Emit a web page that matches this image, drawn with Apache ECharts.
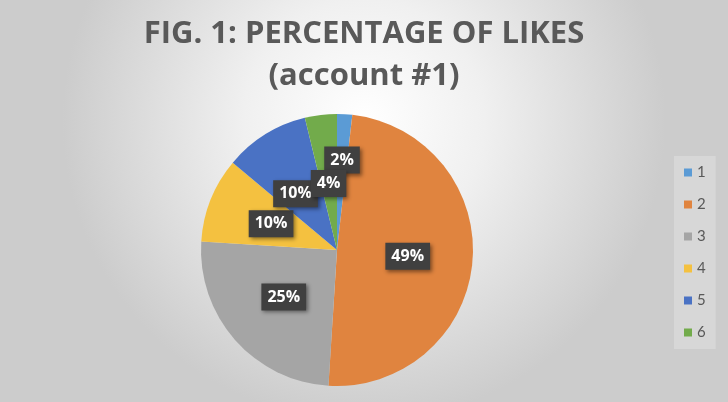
<!DOCTYPE html>
<html>
<head>
<meta charset="utf-8">
<script src="https://cdn.jsdelivr.net/npm/echarts@6/dist/echarts.min.js"></script>
<style>
html,body{margin:0;padding:0;}
#chart{width:728px;height:402px;}
</style>
</head>
<body>
<div id="chart"></div>
<script>
const categories = ['1', '2', '3', '4', '5', '6'];
const values = [1.8, 49.2, 25.0, 10.1, 10.1, 3.8];
const colors = ['#5B9BD5', '#E0843F', '#A5A5A5', '#F4C140', '#4A72C4', '#72AB4B'];
const titleLines = ['FIG. 1: PERCENTAGE OF LIKES', '(account #1)'];

const labelShift = {0: {dx: 1, dy: -19}, 4: {dx: -4, dy: 4}, 5: {dx: 0, dy: 4}};

const chart = echarts.init(document.getElementById('chart'));
chart.setOption({
  animation: false,
  backgroundColor: {
    type: 'radial', x: 0.5, y: 0.3, r: 0.75,
    colorStops: [
      {offset: 0, color: '#ffffff'},
      {offset: 0.4, color: '#f0f0f0'},
      {offset: 1, color: '#cccccc'}
    ]
  },
  title: {
    text: titleLines.join('\n'),
    left: 'center',
    top: 8,
    textStyle: {
      fontFamily: 'Open Sans',
      fontWeight: 'bold',
      fontSize: 31,
      lineHeight: 42,
      color: '#595959'
    }
  },
  legend: {
    orient: 'vertical',
    left: 674,
    top: 156,
    padding: [9, 10, 9, 10],
    backgroundColor: 'rgba(255,255,255,0.22)',
    icon: 'rect',
    itemWidth: 8,
    itemHeight: 8,
    itemGap: 17,
    textStyle: {fontFamily: 'Lato', fontSize: 15, lineHeight: 14, color: '#595959'},
    data: categories
  },
  series: [{
    type: 'pie',
    center: [337, 250],
    radius: 136,
    startAngle: 90,
    clockwise: true,
    color: colors,
    itemStyle: {borderWidth: 0},
    emphasis: {disabled: true},
    label: {
      show: true,
      position: 'inside',
      formatter: p => Math.round(p.percent) + '%',
      color: '#ffffff',
      fontFamily: 'Open Sans',
      fontWeight: 'bold',
      fontSize: 16,
      backgroundColor: '#404040',
      padding: [6, 6, 5, 6],
      shadowColor: 'rgba(0,0,0,0.45)',
      shadowBlur: 4,
      shadowOffsetX: 2,
      shadowOffsetY: 2
    },
    labelLayout: p => labelShift[p.dataIndex] || {},
    data: categories.map((c, i) => ({name: c, value: values[i]}))
  }]
});
</script>
</body>
</html>
